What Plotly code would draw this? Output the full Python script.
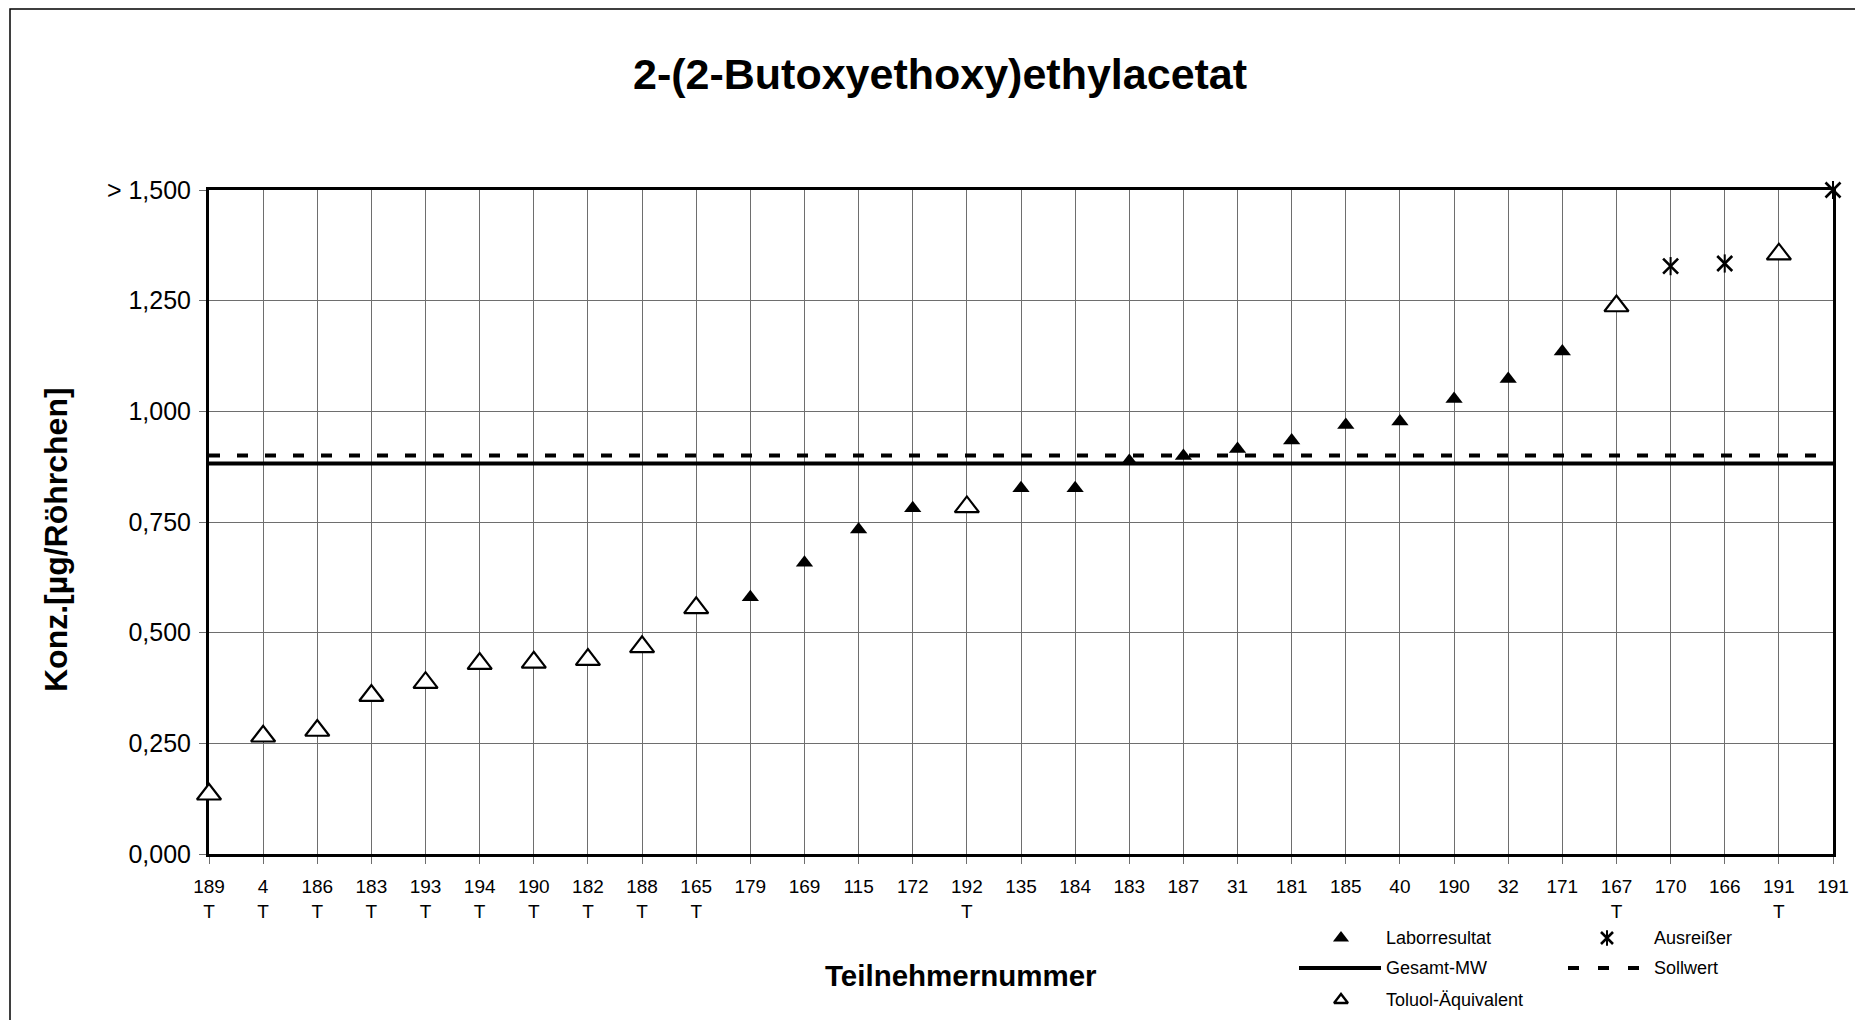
import plotly.graph_objects as go

W, H = 1863, 1020
FONT = "Arial, 'Liberation Sans', sans-serif"

# ---------------- data
teilnehmer = ["189", "4", "186", "183", "193", "194", "190", "182", "188", "165",
              "179", "169", "115", "172", "192", "135", "184", "183", "187", "31",
              "181", "185", "40", "190", "32", "171", "167", "170", "166", "191", "191"]
# T = Toluol-Äquivalent, L = Laborresultat, A = Ausreißer
kategorie = ["T", "T", "T", "T", "T", "T", "T", "T", "T", "T",
             "L", "L", "L", "L", "T", "L", "L", "L", "L", "L",
             "L", "L", "L", "L", "L", "L", "T", "A", "A", "T", "A"]
konz = [0.135, 0.266, 0.279, 0.358, 0.387, 0.430, 0.433, 0.439, 0.468, 0.556,
        0.580, 0.658, 0.733, 0.781, 0.784, 0.826, 0.826, 0.888, 0.899, 0.915,
        0.934, 0.969, 0.977, 1.028, 1.073, 1.135, 1.238, 1.328, 1.334, 1.355, 1.500]
gesamt_mw = 0.882
sollwert = 0.900

y_tickvals = [0.0, 0.25, 0.5, 0.75, 1.0, 1.25, 1.5]
y_ticktext = ["0,000", "0,250", "0,500", "0,750", "1,000", "1,250", "&gt; 1,500"]

pos = list(range(len(teilnehmer)))
x_ticktext = [t + ("<br>T" if k == "T" else "<br> ") for t, k in zip(teilnehmer, kategorie)]


def pick(cat):
    xs = [p for p, k in zip(pos, kategorie) if k == cat]
    ys = [v for v, k in zip(konz, kategorie) if k == cat]
    return xs, ys


# plot area in screen pixels; the page body adds an 8px offset
OFF = 8
PX0, PX1, PY0, PY1 = 209, 1833, 190, 854


def px(x):
    return (x - OFF) / W


def py(y):
    return 1 - (y - OFF) / H


fig = go.Figure()

# reference lines over the full category range
fig.add_trace(go.Scatter(x=[pos[0], pos[-1]], y=[gesamt_mw, gesamt_mw], mode="lines",
                         line=dict(color="black", width=4)))
fig.add_trace(go.Scatter(x=[pos[0], pos[-1]], y=[sollwert, sollwert], mode="lines",
                         line=dict(color="black", width=4, dash="11px,17px")))

x_l, y_l = pick("L")
fig.add_trace(go.Scatter(x=x_l, y=y_l, mode="markers", cliponaxis=False,
                         marker=dict(symbol="triangle-up", size=15, color="black")))
x_t, y_t = pick("T")
fig.add_trace(go.Scatter(x=x_t, y=y_t, mode="markers", cliponaxis=False,
                         marker=dict(symbol="triangle-up", size=21, color="white",
                                     line=dict(color="black", width=2.2))))
x_a, y_a = pick("A")
fig.add_trace(go.Scatter(x=x_a, y=y_a, mode="markers", cliponaxis=False,
                         marker=dict(symbol="x-thin-open", size=15, color="black",
                                     line=dict(color="black", width=2.6))))
fig.add_trace(go.Scatter(x=x_a, y=y_a, mode="markers", cliponaxis=False,
                         marker=dict(symbol="line-ns-open", size=13, color="black",
                                     line=dict(color="black", width=2))))

# ---------------- custom legend (pixel axes over the whole figure)
LX1, LX2, LROW = 1341, 1607, [938, 968, 1000]
leg_x = lambda v: v - OFF
leg_y = lambda v: v - OFF
fig.add_trace(go.Scatter(x=[leg_x(LX1)], y=[leg_y(LROW[0])], xaxis="x2", yaxis="y2", mode="markers",
                         marker=dict(symbol="triangle-up", size=14, color="black")))
fig.add_trace(go.Scatter(x=[leg_x(LX1)], y=[leg_y(LROW[2])], xaxis="x2", yaxis="y2", mode="markers",
                         marker=dict(symbol="triangle-up", size=12, color="white",
                                     line=dict(color="black", width=2.4))))
fig.add_trace(go.Scatter(x=[leg_x(LX2)], y=[leg_y(LROW[0])], xaxis="x2", yaxis="y2", mode="markers",
                         marker=dict(symbol="x-thin-open", size=12, color="black",
                                     line=dict(color="black", width=2.6))))
fig.add_trace(go.Scatter(x=[leg_x(LX2)], y=[leg_y(LROW[0])], xaxis="x2", yaxis="y2", mode="markers",
                         marker=dict(symbol="line-ns-open", size=11, color="black",
                                     line=dict(color="black", width=2))))
fig.add_trace(go.Scatter(x=[leg_x(1299), leg_x(1381)], y=[leg_y(LROW[1])] * 2, xaxis="x2", yaxis="y2",
                         mode="lines", line=dict(color="black", width=4)))
fig.add_trace(go.Scatter(x=[leg_x(1568), leg_x(1640)], y=[leg_y(LROW[1])] * 2, xaxis="x2", yaxis="y2",
                         mode="lines", line=dict(color="black", width=4, dash="11px,19px")))

legend_text = [("Laborresultat", 1384, LROW[0]), ("Gesamt-MW", 1384, LROW[1]),
               ("Toluol-Äquivalent", 1384, LROW[2]), ("Ausreißer", 1652, LROW[0]),
               ("Sollwert", 1652, LROW[1])]
for txt, tx, ty in legend_text:
    fig.add_annotation(text=txt, x=px(tx), y=py(ty), xref="paper", yref="paper",
                       xanchor="left", yanchor="middle", showarrow=False,
                       font=dict(family=FONT, size=18, color="black"))

# titles
fig.add_annotation(text="<b>2-(2-Butoxyethoxy)ethylacetat</b>", x=px(940), y=py(74),
                   xref="paper", yref="paper", xanchor="center", yanchor="middle",
                   showarrow=False, font=dict(family=FONT, size=43, color="black"))
fig.add_annotation(text="<b>Teilnehmernummer</b>", x=px(961), y=py(975),
                   xref="paper", yref="paper", xanchor="center", yanchor="middle",
                   showarrow=False, font=dict(family=FONT, size=29.5, color="black"))
fig.add_annotation(text="<b>Konz.[µg/Röhrchen]</b>", x=px(56), y=py(540), textangle=-90,
                   xref="paper", yref="paper", xanchor="center", yanchor="middle",
                   showarrow=False, font=dict(family=FONT, size=32, color="black"))

# outer frame (right and bottom edges lie outside the picture)
fig.add_shape(type="rect", xref="paper", yref="paper", x0=px(10), y0=py(9), x1=1.05, y1=-0.05,
              line=dict(color="black", width=1.5), layer="below")

fig.update_layout(
    width=W, height=H,
    margin=dict(l=0, r=0, t=0, b=0, pad=0, autoexpand=False),
    paper_bgcolor="white", plot_bgcolor="rgba(0,0,0,0)",
    showlegend=False,
    font=dict(family=FONT, color="black"),
    xaxis=dict(domain=[px(PX0), px(PX1)], range=[0, len(teilnehmer) - 1],
               tickmode="array", tickvals=pos, ticktext=x_ticktext,
               tickfont=dict(size=19), showgrid=True, gridcolor="#6e6e6e", gridwidth=1,
               showline=True, linecolor="black", linewidth=3, mirror=True,
               ticks="outside", ticklen=7, tickcolor="#6e6e6e", zeroline=False,
               ticklabelstandoff=6,
               layer="below traces", anchor="y", automargin=False),
    yaxis=dict(domain=[py(PY1), py(PY0)], range=[0, 1.5],
               tickmode="array", tickvals=y_tickvals, ticktext=y_ticktext,
               tickfont=dict(size=25), showgrid=True, gridcolor="#6e6e6e", gridwidth=1,
               showline=True, linecolor="black", linewidth=3, mirror=True,
               ticks="outside", ticklen=7, tickcolor="#6e6e6e", zeroline=False,
               ticklabelstandoff=3,
               layer="below traces", anchor="x", automargin=False),
    xaxis2=dict(domain=[0, 1], range=[0, W], visible=False, anchor="y2", automargin=False),
    yaxis2=dict(domain=[0, 1], range=[H, 0], visible=False, anchor="x2", automargin=False),
)

fig.write_html("out.html")
